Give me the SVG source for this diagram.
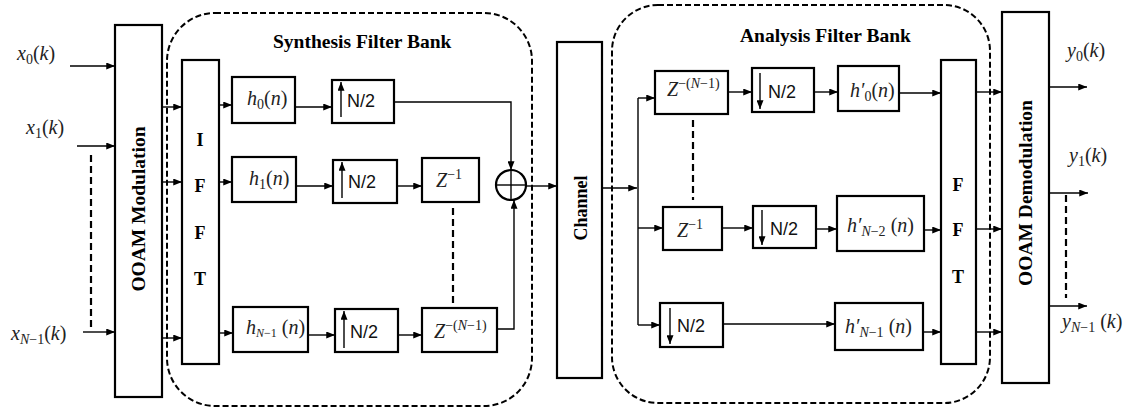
<svg xmlns="http://www.w3.org/2000/svg" width="1139" height="409" viewBox="0 0 1139 409">
<style>
.bx{fill:#fff;stroke:#000;stroke-width:2.2}
.ln{fill:none;stroke:#000;stroke-width:1.4}
.ar{fill:none;stroke:#000;stroke-width:1.4;marker-end:url(#ah)}
.dl{fill:none;stroke:#000;stroke-width:2.2;stroke-dasharray:7,4}
.bnd{fill:none;stroke:#000;stroke-width:2;stroke-dasharray:6,3}
.tb{font-family:"Liberation Serif",serif;font-weight:bold;fill:#000}
.m{font-family:"Liberation Serif",serif;font-size:20px;fill:#222}
.mi{font-style:italic}
.s{font-size:14px}
.ns{font-family:"Liberation Sans",sans-serif;font-size:18px;fill:#111}
</style>
<defs>
<marker id="ah" viewBox="0 0 10 8" refX="10" refY="4" markerWidth="9" markerHeight="7" markerUnits="userSpaceOnUse" orient="auto">
<path d="M0,0 L10,4 L0,8 z" fill="#000"/>
</marker>
</defs>
<rect width="1139" height="409" fill="#fff"/>

<g id="synthesis-bank">
<rect class="bnd" x="167" y="13" width="365" height="393" rx="48" ry="48"/>
<text class="tb" x="273" y="48" font-size="19.5">Synthesis Filter Bank</text>
</g>
<g id="analysis-bank">
<rect class="bnd" x="612" y="5" width="378" height="398" rx="46" ry="46"/>
<text class="tb" x="740" y="42" font-size="19.5">Analysis Filter Bank</text>
</g>

<g id="inputs">
<text class="m" x="17" y="60"><tspan class="mi">x</tspan><tspan class="s" dy="4">0</tspan><tspan dy="-4">(</tspan><tspan class="mi">k</tspan>)</text>
<text class="m" x="26" y="134"><tspan class="mi">x</tspan><tspan class="s" dy="4">1</tspan><tspan dy="-4">(</tspan><tspan class="mi">k</tspan>)</text>
<text class="m" x="11" y="340"><tspan class="mi">x</tspan><tspan class="s" dy="4"><tspan class="mi">N</tspan>−1</tspan><tspan dy="-4">(</tspan><tspan class="mi">k</tspan>)</text>
</g>

<g id="ooam-mod">
<rect class="bx" x="115" y="25" width="47" height="372"/>
<text class="tb" font-size="19.5" text-anchor="middle" transform="translate(145,209) rotate(-90)">OOAM Modulation</text>
</g>

<g id="ifft">
<rect class="bx" x="182" y="60" width="37" height="304"/>
<text class="tb" font-size="18" text-anchor="middle" x="200" y="146">I</text>
<text class="tb" font-size="18" text-anchor="middle" x="200" y="192">F</text>
<text class="tb" font-size="18" text-anchor="middle" x="200" y="239">F</text>
<text class="tb" font-size="18" text-anchor="middle" x="200" y="285">T</text>
</g>

<g id="h0">
<rect class="bx" x="232" y="77" width="63" height="46"/>
<text class="m" x="247" y="105"><tspan class="mi">h</tspan><tspan class="s" dy="4">0</tspan><tspan dy="-4">(</tspan><tspan class="mi">n</tspan>)</text>
</g>
<g id="h1">
<rect class="bx" x="232" y="157" width="64" height="45"/>
<text class="m" x="249" y="185"><tspan class="mi">h</tspan><tspan class="s" dy="4">1</tspan><tspan dy="-4">(</tspan><tspan class="mi">n</tspan>)</text>
</g>
<g id="hN1">
<rect class="bx" x="233" y="307" width="75" height="45"/>
<text class="m" x="246" y="334" font-size="17"><tspan class="mi">h</tspan><tspan font-size="12" dy="3"><tspan class="mi">N</tspan>−1</tspan><tspan dy="-3"> (</tspan><tspan class="mi">n</tspan>)</text>
</g>

<g id="up0">
<rect class="bx" x="332" y="80" width="62" height="43"/>
<line class="ar" x1="341" y1="117" x2="341" y2="82"/>
<text class="ns" x="347" y="107">N/2</text>
</g>
<g id="up1">
<rect class="bx" x="333" y="160" width="64" height="43"/>
<line class="ar" x1="342" y1="198" x2="342" y2="162"/>
<text class="ns" x="348" y="188">N/2</text>
</g>
<g id="upN1">
<rect class="bx" x="335" y="309" width="63" height="43"/>
<line class="ar" x1="344" y1="348" x2="344" y2="311"/>
<text class="ns" x="350" y="338">N/2</text>
</g>

<g id="z1">
<rect class="bx" x="422" y="158" width="57" height="44"/>
<text class="m" x="436" y="187"><tspan class="mi">Z</tspan><tspan class="s" dy="-8">−1</tspan></text>
</g>
<g id="zN1">
<text class="m" x="434" y="338"><tspan class="mi">Z</tspan><tspan class="s" dy="-8">−(<tspan class="mi">N</tspan>−1)</tspan></text>
<rect x="422" y="308" width="75" height="44" fill="none" stroke="#000" stroke-width="2.2"/>
</g>

<g id="adder">
<circle cx="511" cy="185" r="15" fill="#fff" stroke="#000" stroke-width="2.2"/>
<line class="ln" x1="496" y1="185" x2="526" y2="185" stroke-width="2"/>
<line class="ln" x1="511" y1="170" x2="511" y2="200" stroke-width="2"/>
</g>

<g id="channel">
<rect class="bx" x="557" y="42" width="45" height="336"/>
<text class="tb" font-size="18" text-anchor="middle" transform="translate(587,208) rotate(-90)">Channel</text>
</g>

<g id="za">
<text class="m" x="667" y="96"><tspan class="mi">Z</tspan><tspan class="s" dy="-8">−(<tspan class="mi">N</tspan>−1)</tspan></text>
<rect x="655" y="71" width="73" height="43" fill="none" stroke="#000" stroke-width="2.2"/>
</g>
<g id="zb">
<rect class="bx" x="663" y="207" width="59" height="43"/>
<text class="m" x="677" y="237"><tspan class="mi">Z</tspan><tspan class="s" dy="-8">−1</tspan></text>
</g>

<g id="dn0">
<rect class="bx" x="752" y="68" width="62" height="44"/>
<line class="ar" x1="760" y1="73" x2="760" y2="109"/>
<text class="ns" x="768" y="98">N/2</text>
</g>
<g id="dn1">
<rect class="bx" x="753" y="206" width="63" height="42"/>
<line class="ar" x1="762" y1="210" x2="762" y2="245"/>
<text class="ns" x="770" y="235">N/2</text>
</g>
<g id="dnN1">
<rect class="bx" x="660" y="303" width="63" height="44"/>
<line class="ar" x1="670" y1="308" x2="670" y2="344"/>
<text class="ns" x="677" y="332">N/2</text>
</g>

<g id="hp0">
<rect class="bx" x="838" y="66" width="61" height="45"/>
<text class="m" x="850" y="97"><tspan class="mi">h′</tspan><tspan class="s" dy="4">0</tspan><tspan dy="-4">(</tspan><tspan class="mi">n</tspan>)</text>
</g>
<g id="hpN2">
<rect class="bx" x="837" y="196" width="87" height="55"/>
<text class="m" x="847" y="232"><tspan class="mi">h′</tspan><tspan class="s" dy="4"><tspan class="mi">N</tspan>−2</tspan><tspan dy="-4"> (</tspan><tspan class="mi">n</tspan>)</text>
</g>
<g id="hpN1">
<rect class="bx" x="835" y="303" width="88" height="47"/>
<text class="m" x="845" y="333"><tspan class="mi">h′</tspan><tspan class="s" dy="4"><tspan class="mi">N</tspan>−1</tspan><tspan dy="-4"> (</tspan><tspan class="mi">n</tspan>)</text>
</g>

<g id="fft">
<rect class="bx" x="941" y="60" width="35" height="304"/>
<text class="tb" font-size="18" text-anchor="middle" x="958" y="191">F</text>
<text class="tb" font-size="18" text-anchor="middle" x="958" y="236">F</text>
<text class="tb" font-size="18" text-anchor="middle" x="958" y="283">T</text>
</g>

<g id="ooam-demod">
<rect class="bx" x="1002" y="12" width="47" height="371"/>
<text class="tb" font-size="19.5" text-anchor="middle" transform="translate(1032,193) rotate(-90)">OOAM Demodulation</text>
</g>

<g id="outputs">
<text class="m" x="1067" y="57"><tspan class="mi">y</tspan><tspan class="s" dy="4">0</tspan><tspan dy="-4">(</tspan><tspan class="mi">k</tspan>)</text>
<text class="m" x="1069" y="162"><tspan class="mi">y</tspan><tspan class="s" dy="4">1</tspan><tspan dy="-4">(</tspan><tspan class="mi">k</tspan>)</text>
<text class="m" x="1062" y="328"><tspan class="mi">y</tspan><tspan class="s" dy="4"><tspan class="mi">N</tspan>−1</tspan><tspan dy="-4"> (</tspan><tspan class="mi">k</tspan>)</text>
</g>

<g id="connectors">
<line class="ar" x1="70" y1="66" x2="115" y2="66"/>
<line class="ar" x1="77" y1="146" x2="115" y2="146"/>
<line class="ar" x1="83" y1="332" x2="115" y2="332"/>
<line class="dl" x1="91" y1="155" x2="91" y2="327"/>
<line class="ar" x1="162" y1="107" x2="182" y2="107"/>
<line class="ar" x1="162" y1="182" x2="182" y2="182"/>
<line class="ar" x1="162" y1="338" x2="182" y2="338"/>
<line class="ar" x1="219" y1="105" x2="232" y2="105"/>
<line class="ar" x1="219" y1="182" x2="232" y2="182"/>
<line class="ar" x1="219" y1="333" x2="233" y2="333"/>
<line class="ar" x1="295" y1="107" x2="332" y2="107"/>
<line class="ar" x1="296" y1="186" x2="333" y2="186"/>
<line class="ar" x1="308" y1="335" x2="335" y2="335"/>
<line class="ar" x1="397" y1="186" x2="422" y2="186"/>
<line class="ar" x1="398" y1="335" x2="422" y2="335"/>
<line class="dl" x1="453" y1="208" x2="453" y2="303"/>
<polyline class="ar" points="394,102 511,102 511,170"/>
<polyline class="ar" points="497,329 514,329 514,200"/>
<line class="ar" x1="526" y1="186" x2="557" y2="186"/>
<line class="ar" x1="602" y1="188" x2="637" y2="188"/>
<line class="ln" x1="638" y1="98" x2="638" y2="325"/>
<line class="ar" x1="638" y1="98" x2="655" y2="98"/>
<line class="ar" x1="638" y1="228" x2="663" y2="228"/>
<line class="ar" x1="638" y1="325" x2="660" y2="325"/>
<line class="dl" x1="693" y1="120" x2="693" y2="200"/>
<line class="ar" x1="728" y1="92" x2="752" y2="92"/>
<line class="ar" x1="722" y1="228" x2="753" y2="228"/>
<line class="ar" x1="723" y1="324" x2="835" y2="324"/>
<line class="ar" x1="814" y1="92" x2="838" y2="92"/>
<line class="ar" x1="816" y1="229" x2="837" y2="229"/>
<line class="ar" x1="899" y1="93" x2="941" y2="93"/>
<line class="ar" x1="924" y1="230" x2="941" y2="230"/>
<line class="ar" x1="923" y1="332" x2="941" y2="332"/>
<line class="ar" x1="976" y1="92" x2="1002" y2="92"/>
<line class="ar" x1="976" y1="229" x2="1002" y2="229"/>
<line class="ar" x1="976" y1="332" x2="1002" y2="332"/>
<line class="ar" x1="1049" y1="87" x2="1087" y2="87"/>
<line class="ar" x1="1049" y1="193" x2="1088" y2="193"/>
<line class="ar" x1="1049" y1="306" x2="1087" y2="306"/>
<line class="dl" x1="1066" y1="195" x2="1066" y2="298"/>
</g>
</svg>
